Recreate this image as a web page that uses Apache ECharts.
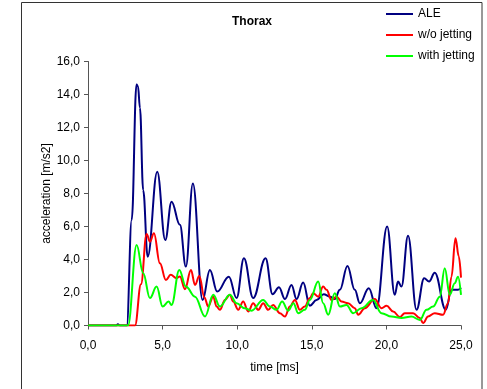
<!DOCTYPE html>
<html>
<head>
<meta charset="utf-8">
<script src="https://cdn.jsdelivr.net/npm/echarts@6/dist/echarts.min.js"></script>
<style>
  html, body { margin: 0; padding: 0; background: #fff; }
  #chart { width: 487px; height: 389px; }
</style>
</head>
<body>
<div id="chart"></div>
<script>
// time [ms] and acceleration [m/s2]
const aleT = [0, 1.9, 2.0, 2.15, 2.6, 2.93, 3.25, 3.35, 3.48, 3.7, 4.0, 4.64, 5.18, 5.6, 6.16, 6.56, 7.03, 7.68, 8.17, 8.66, 9.44, 9.96, 10.45, 11.07, 11.9, 12.37, 12.8, 13.2, 13.64, 13.98, 14.42, 14.87, 15.32, 15.8, 16.21, 16.54, 16.88, 17.39, 17.88, 18.22, 18.82, 19.34, 20.05, 20.56, 20.78, 21.01, 21.45, 22.02, 22.53, 22.86, 23.24, 23.98, 24.36, 24.8, 25.0];
const aleV = [0, 0, 0.08, 0, 0, 6.4, 14.6, 14.5, 13.2, 8.2, 4.17, 9.32, 5.18, 7.5, 6.1, 3.57, 8.6, 1.55, 3.37, 2.06, 2.96, 1.66, 4.07, 1.66, 4.07, 1.9, 2.32, 1.6, 2.46, 1.6, 2.6, 1.2, 1.55, 1.9, 1.75, 1.6, 2.16, 3.61, 2.16, 1.35, 2.26, 1.05, 6.0, 1.86, 2.66, 2.36, 5.44, 0.95, 2.87, 2.66, 3.2, 0.95, 2.16, 2.16, 2.3];

const woT = [0, 3.15, 3.55, 3.93, 4.15, 4.42, 4.82, 5.22, 5.54, 5.94, 6.16, 6.5, 6.9, 7.17, 7.46, 7.8, 8.06, 8.39, 8.62, 8.84, 9.18, 9.51, 9.73, 10.07, 10.4, 10.74, 11.07, 11.41, 11.74, 12.08, 12.41, 12.86, 13.2, 13.53, 13.87, 14.2, 14.53, 14.87, 15.09, 15.43, 15.76, 15.99, 16.32, 16.66, 16.99, 17.43, 17.88, 18.11, 18.55, 19.22, 19.67, 20.01, 20.45, 20.9, 21.23, 21.79, 22.24, 22.46, 22.79, 23.24, 23.8, 24.13, 24.36, 24.63, 24.85, 25.0];
const woV = [0, 0, 2.5, 5.55, 5.08, 5.59, 3.77, 2.76, 3.07, 2.87, 2.97, 2.2, 3.37, 2.46, 3.0, 1.7, 1.15, 1.75, 1.15, 0.95, 1.55, 1.86, 1.45, 0.95, 1.45, 0.85, 1.35, 0.95, 1.35, 0.95, 1.25, 0.75, 0.54, 1.15, 1.55, 0.95, 1.15, 1.66, 1.96, 1.75, 2.36, 2.16, 1.55, 1.75, 1.45, 1.35, 1.05, 0.65, 1.05, 1.6, 1.05, 1.19, 0.85, 0.51, 0.75, 0.75, 0.45, 0.15, 0.54, 0.75, 0.65, 1.35, 2.96, 5.29, 4.2, 2.9];

const withT = [0, 2.68, 3.26, 3.7, 4.15, 4.6, 5.0, 5.4, 5.6, 6.12, 6.56, 7.17, 7.84, 8.4, 8.84, 9.51, 9.96, 10.5, 10.96, 11.74, 12.19, 12.64, 13.01, 13.42, 13.77, 14.09, 14.53, 14.87, 15.43, 15.76, 16.1, 16.54, 16.88, 17.33, 17.77, 18.33, 19.1, 19.67, 20.34, 21.01, 21.68, 22.24, 22.69, 23.13, 23.58, 23.91, 24.25, 24.58, 24.8, 25.0];
const withV = [0, 0, 4.88, 3.17, 1.66, 2.36, 1.15, 1.45, 1.25, 3.37, 2.36, 1.75, 0.55, 1.86, 1.15, 1.86, 1.35, 1.05, 0.9, 1.55, 1.15, 0.95, 1.45, 0.9, 1.35, 0.75, 0.95, 1.55, 2.66, 1.35, 0.65, 1.96, 1.15, 1.25, 0.75, 1.05, 1.55, 0.75, 0.54, 0.45, 0.54, 0.34, 0.95, 1.15, 1.75, 3.47, 1.86, 2.56, 2.96, 1.86];

const seriesNames = ['ALE', 'w/o jetting', 'with jetting'];
const seriesColors = ['#000080', '#ff0000', '#00ff00'];

function pairs(t, v) {
  return t.map((x, i) => [x, v[i]]);
}

const chart = echarts.init(document.getElementById('chart'));
const fmt = v => v.toFixed(1).replace('.', ',');
const font = 'Liberation Sans, Arial, sans-serif';

chart.setOption({
  animation: false,
  textStyle: { fontFamily: font },
  title: {
    text: 'Thorax',
    left: 252, top: 16, textAlign: 'center', padding: 0,
    textStyle: { fontSize: 12, fontWeight: 'bold', color: '#000', fontFamily: font }
  },
  legend: {
    orient: 'vertical',
    left: 386, top: 7, padding: 0,
    itemWidth: 27, itemHeight: 2, itemGap: 7,
    icon: 'rect',
    data: seriesNames,
    textStyle: { fontSize: 12, color: '#000', lineHeight: 14, fontFamily: font }
  },
  grid: { left: 88, top: 61.5, right: 26, bottom: 63.5 },
  xAxis: {
    type: 'value', min: 0, max: 25, interval: 5,
    name: 'time [ms]', nameLocation: 'middle', nameGap: 36, nameMoveOverlap: false,
    nameTextStyle: { fontSize: 12, color: '#000', fontFamily: font },
    axisLine: { lineStyle: { color: '#555', width: 1 } },
    axisTick: { length: 4, lineStyle: { color: '#555' } },
    axisLabel: { formatter: fmt, fontSize: 12, color: '#000', margin: 14, fontFamily: font },
    splitLine: { show: false }
  },
  yAxis: {
    type: 'value', min: 0, max: 16, interval: 2,
    name: 'acceleration [m/s2]', nameLocation: 'middle', nameGap: 35, nameMoveOverlap: false,
    nameTextStyle: { fontSize: 12, color: '#000', fontFamily: font },
    axisLine: { show: true, lineStyle: { color: '#555', width: 1 } },
    axisTick: { show: true, length: 4, lineStyle: { color: '#555' } },
    axisLabel: { formatter: fmt, fontSize: 12, color: '#000', margin: 8, fontFamily: font },
    splitLine: { show: false }
  },
  graphic: [{
    type: 'rect',
    shape: { x: 21.5, y: 2.5, width: 460.5, height: 400 },
    style: { fill: 'none', stroke: '#333', lineWidth: 1 },
    silent: true
  }],
  series: [
    { name: seriesNames[0], data: pairs(aleT, aleV) },
    { name: seriesNames[1], data: pairs(woT, woV) },
    { name: seriesNames[2], data: pairs(withT, withV) }
  ].map((s, i) => Object.assign(s, {
    type: 'line',
    smooth: 0.4,
    smoothMonotone: 'x',
    symbol: 'none',
    color: seriesColors[i],
    lineStyle: { width: 2, color: seriesColors[i] },
    z: 2 + i
  }))
});
</script>
</body>
</html>
